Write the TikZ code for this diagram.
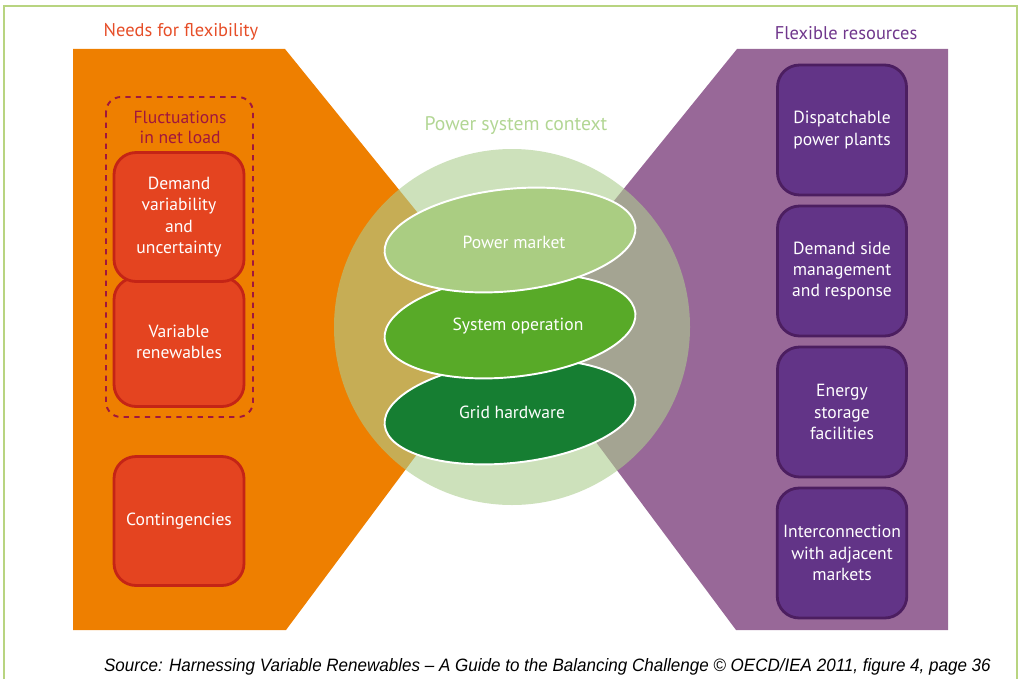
\documentclass[tikz,border=0pt]{standalone}
\usepackage{fontspec}
\setmainfont{PT Sans}
\newfontfamily\srcfont[FakeStretch=0.95]{Liberation Sans}
\usepackage{tikz}
\usetikzlibrary{calc}

\definecolor{frameGreen}{RGB}{184,212,128}
\definecolor{needOrange}{RGB}{238,127,0}
\definecolor{resPurple}{RGB}{152,104,152}
\definecolor{ctxGreen}{RGB}{172,205,142}
\definecolor{needTitle}{RGB}{230,78,40}
\definecolor{resTitle}{RGB}{112,55,140}
\definecolor{ctxTitle}{RGB}{178,214,148}
\definecolor{fluctRed}{RGB}{160,22,62}
\definecolor{boxRed}{RGB}{228,68,32}
\definecolor{boxRedRim}{RGB}{196,36,22}
\definecolor{boxPurple}{RGB}{98,52,135}
\definecolor{boxPurpleRim}{RGB}{76,30,96}
\definecolor{marketGreen}{RGB}{170,205,130}
\definecolor{operGreen}{RGB}{88,170,40}
\definecolor{gridGreen}{RGB}{22,126,50}

\tikzset{
  boxtext/.style={text=white, align=center, font=\fontsize{10}{12.2}\selectfont},
  needbox/.style={boxtext, fill=boxRed, draw=boxRedRim, line width=1.6pt,
    rounded corners=0.44cm, minimum width=2.6cm, minimum height=2.58cm},
  resbox/.style={boxtext, fill=boxPurple, draw=boxPurpleRim, line width=1.6pt,
    rounded corners=0.44cm, minimum width=2.58cm, minimum height=2.6cm},
  layer/.style={draw=white, line width=1.1pt},
  title/.style={font=\fontsize{10.5}{12}\selectfont}
}

\begin{document}
\begin{tikzpicture}[x=0.02cm, y=-0.02cm]
\useasboundingbox (0,0) rectangle (1020,679);
% frame
\draw[frameGreen, line width=1.1pt] (4,679) -- (4,6) -- (1017,6) -- (1017,679);
% the two wings
\fill[needOrange] (73,49) -- (285,49) -- (511,328) -- (286,630) -- (73,630) -- cycle;
\fill[resPurple] (948,49) -- (737,49) -- (511,328) -- (736,630) -- (948,630) -- cycle;
% titles
\node[title, text=needTitle] (needs) at (181,32) {Needs for flexibility};
\node[title, text=resTitle] (resources) at (846,33) {Flexible resources};
\node[title, text=ctxTitle, font=\fontsize{11.2}{13}\selectfont] (context) at (516,126) {Power system context};
% power system context
\fill[ctxGreen, opacity=0.6] (512,327) circle [radius=178];
\draw[layer, fill=gridGreen, rotate around={6:(510,412)}] (510,412) ellipse [x radius=126, y radius=51];
\node[boxtext] (grid) at (512,412) {Grid hardware};
\draw[layer, fill=operGreen, rotate around={6:(510,326)}] (510,326) ellipse [x radius=126, y radius=51];
\node[boxtext] (oper) at (518,326) {System operation};
\draw[layer, fill=marketGreen, rotate around={6:(510,240)}] (510,240) ellipse [x radius=126, y radius=51];
\node[boxtext] (market) at (514,242) {Power market};
% needs
\draw[fluctRed, line width=1.1pt, dashed, rounded corners=0.3cm] (106,97) rectangle (253,417);
\node[text=fluctRed, align=center, font=\fontsize{10}{11.5}\selectfont] (fluct) at (180,127) {Fluctuations\\in net load};
\node[needbox] (vre) at (179,342) {Variable\\renewables};
\node[needbox] (demand) at (179,217) {Demand\\variability\\and\\uncertainty};
\node[needbox] (cont) at (179,521) {Contingencies};
% resources
\node[resbox] (disp) at (842,130) {Dispatchable\\power plants};
\node[resbox] (dsm) at (842,271) {Demand side\\management\\and response};
\node[resbox] (storage) at (842,412) {Energy\\storage\\facilities};
\node[resbox] (inter) at (842,553) {Interconnection\\with adjacent\\markets};
% source
\node[anchor=east, font=\srcfont\itshape\fontsize{10.2}{12}\selectfont] (source) at (997,667)
  {Source: Harnessing Variable Renewables – A Guide to the Balancing Challenge \textcopyright{} OECD/IEA 2011, figure 4, page 36};
\end{tikzpicture}
\end{document}
